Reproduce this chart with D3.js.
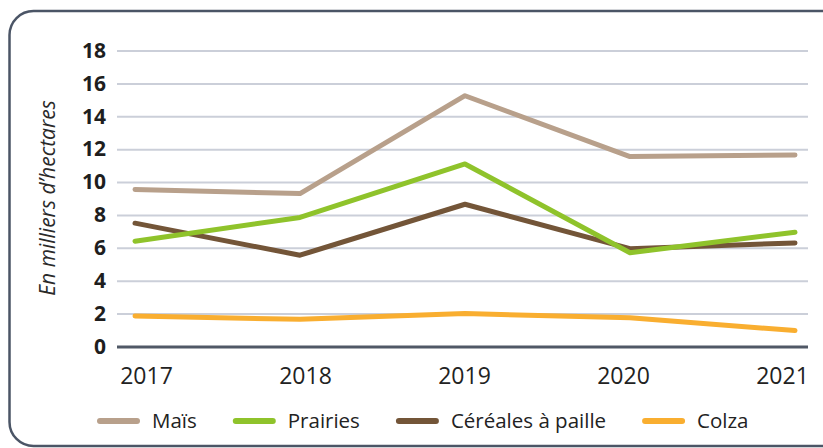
<!DOCTYPE html>
<html>
<head>
<meta charset="utf-8">
<script src="https://cdn.jsdelivr.net/npm/d3@7"></script>
<style>
  body { margin: 0; background: #fff; }
  svg { display: block; font-family: "Open Sans", sans-serif; }
</style>
</head>
<body>
<svg id="chart"></svg>
<script>
var years = ["2017", "2018", "2019", "2020", "2021"];
var yTicks = [0, 2, 4, 6, 8, 10, 12, 14, 16, 18];
var seriesNames = ["Maïs", "Prairies", "Céréales à paille", "Colza"];
var mais = [9.55, 9.3, 15.25, 11.55, 11.65];
var prairies = [6.4, 7.85, 11.1, 5.7, 6.95];
var cereales = [7.5, 5.55, 8.65, 5.95, 6.3];
var colza = [1.85, 1.65, 2.0, 1.75, 0.97];
var colors = ["#b8a08b", "#8fc32b", "#735538", "#f9ae30"];

var width = 823, height = 448;

var svg = d3.select("#chart")
    .attr("width", width)
    .attr("height", height);

// rounded frame, cut off on the right like the original
svg.append("rect")
    .attr("x", 9.5)
    .attr("y", 11)
    .attr("width", 840)
    .attr("height", 435)
    .attr("rx", 24)
    .attr("fill", "none")
    .attr("stroke", "#4b5566")
    .attr("stroke-width", 2.5);

var y = d3.scaleLinear()
    .domain([0, 18])
    .range([346.5, 50.5]);

var x = d3.scalePoint()
    .domain(years)
    .range([135, 795]);

// labels sit a little inside the line ends
var xLab = d3.scalePoint()
    .domain(years)
    .range([146, 782]);

var gridLeft = 117, gridRight = 808;

// y axis + grid
var yAxis = svg.append("g")
    .attr("transform", "translate(" + gridLeft + ",0)")
    .call(d3.axisLeft(y)
        .tickValues(yTicks)
        .tickSize(-(gridRight - gridLeft))
        .tickPadding(11));
yAxis.select(".domain").remove();
yAxis.selectAll(".tick line")
    .attr("stroke", function(d) { return d === 0 ? "#505866" : "#cbcfd9"; })
    .attr("stroke-width", function(d) { return d === 0 ? 3 : 2; });
yAxis.selectAll(".tick text")
    .attr("fill", "#1e1e1e")
    .style("font-size", "21px")
    .style("font-weight", "bold")
    .style("font-family", "'Open Sans', sans-serif");

// x axis labels
var xAxis = svg.append("g")
    .attr("transform", "translate(0,346)")
    .call(d3.axisBottom(xLab).tickSize(0).tickPadding(22));
xAxis.select(".domain").remove();
xAxis.selectAll(".tick text")
    .attr("fill", "#222")
    .style("font-size", "23px")
    .style("font-family", "'Open Sans', sans-serif");

// y axis title
svg.append("text")
    .attr("transform", "translate(55,198) rotate(-90)")
    .attr("text-anchor", "middle")
    .style("font-size", "21px")
    .style("font-style", "italic")
    .attr("fill", "#2a2a2a")
    .text("En milliers d\u2019hectares");

var line = d3.line()
    .x(function(d, i) { return x(years[i]); })
    .y(function(d) { return y(d); });

var allSeries = [mais, prairies, cereales, colza];
// draw order: céréales under prairies
var drawOrder = [0, 2, 1, 3];
drawOrder.forEach(function(k) {
    svg.append("path")
        .datum(allSeries[k])
        .attr("d", line)
        .attr("fill", "none")
        .attr("stroke", colors[k])
        .attr("stroke-width", 5)
        .attr("stroke-linecap", "round")
        .attr("stroke-linejoin", "round");
});

// legend
var legend = svg.append("g").attr("transform", "translate(97,421)");
var lx = 0;
seriesNames.forEach(function(name, i) {
    var item = legend.append("g").attr("transform", "translate(" + lx + ",0)");
    item.append("line")
        .attr("x1", 3).attr("x2", 40)
        .attr("y1", 0).attr("y2", 0)
        .attr("stroke", colors[i])
        .attr("stroke-width", 6)
        .attr("stroke-linecap", "round");
    var t = item.append("text")
        .attr("x", 55)
        .attr("dy", "0.35em")
        .style("font-size", "20.5px")
        .attr("fill", "#222")
        .text(name);
    lx += 55 + t.node().getComputedTextLength() + 36;
});
</script>
</body>
</html>
